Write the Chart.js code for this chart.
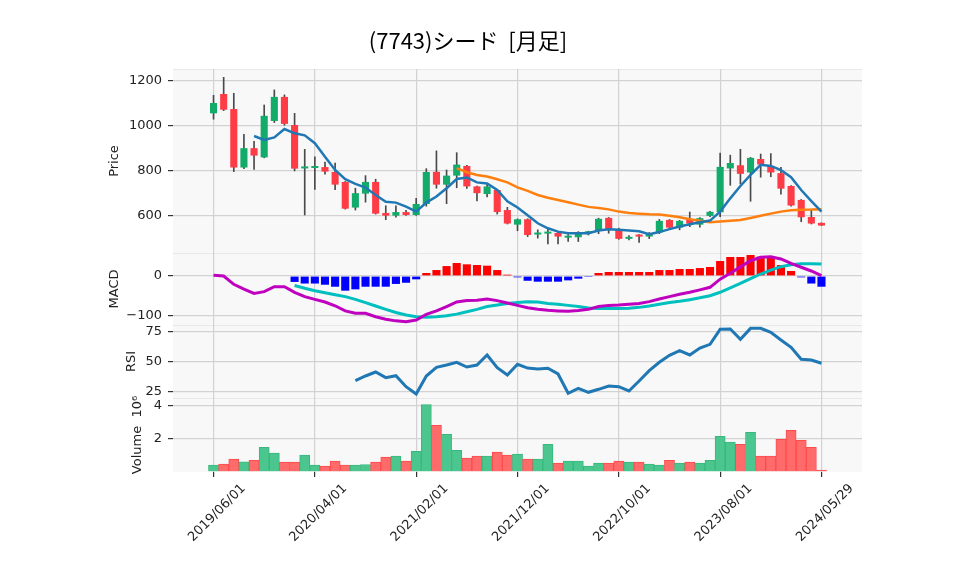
<!DOCTYPE html>
<html>
<head>
<meta charset="utf-8">
<script src="https://cdn.jsdelivr.net/npm/chart.js@4.4.1/dist/chart.umd.min.js"></script>
<style>
    html, body { margin: 0; padding: 0; background: #fff; }
    canvas { display: block; }
</style>
</head>
<body>
<canvas id="chart" width="958" height="575"></canvas>
<script>
// monthly candles, index 0 = 2019/06 ... 60 = 2024/05
const tickPositions = [0, 10, 20, 30, 40, 50, 60];
const tickLabels = ["2019/06/01", "2020/04/01", "2021/02/01", "2021/12/01", "2022/10/01", "2023/08/01", "2024/05/29"];

const opens = [1053, 1139, 1072, 812, 898, 857, 1019, 1126, 1001, 808, 810, 814, 792, 748, 634, 696, 748, 610, 598, 614,
    601, 650, 793, 736, 776, 819, 728, 694, 712, 623, 558, 582, 514, 518, 521, 500, 502, 520, 532, 588,
    535, 495, 512, 505, 524, 579, 545, 582, 558, 597, 613, 808, 822, 790, 850, 819, 787, 730, 668, 592, 566];
const highs = [1133, 1213, 1142, 960, 929, 1090, 1157, 1135, 1053, 893, 860, 836, 832, 750, 720, 776, 760, 642, 642, 622,
    675, 807, 886, 801, 878, 822, 730, 739, 715, 635, 584, 584, 535, 538, 524, 514, 527, 529, 587, 590,
    542, 509, 514, 523, 581, 581, 577, 614, 590, 617, 876, 867, 893, 857, 872, 874, 813, 732, 670, 622, 566];
const lows = [1027, 1065, 794, 807, 804, 855, 1012, 1000, 797, 601, 715, 783, 713, 627, 623, 658, 605, 580, 591, 599,
    599, 640, 720, 651, 722, 719, 664, 681, 605, 561, 531, 505, 498, 472, 472, 483, 483, 512, 518, 520,
    493, 490, 479, 496, 518, 538, 535, 549, 547, 594, 593, 733, 739, 662, 769, 771, 693, 640, 571, 561, 554];
const closes = [1099, 1069, 812, 898, 865, 1042, 1126, 1006, 807, 816, 816, 794, 736, 629, 698, 748, 607, 598, 614, 601,
    650, 792, 736, 776, 825, 728, 698, 728, 614, 563, 582, 512, 523, 527, 505, 509, 517, 527, 584, 539,
    495, 503, 505, 517, 575, 545, 575, 563, 587, 615, 815, 832, 784, 855, 825, 790, 718, 643, 591, 563, 554];

const ma5 = [null, null, null, null, 952, 935, 946, 983, 964, 955, 920, 860, 801, 760, 739, 723, 690, 660, 656, 638,
    616, 656, 683, 720, 761, 768, 746, 741, 712, 662, 634, 600, 564, 542, 527, 520, 520, 520, 532, 538,
    535, 532, 529, 516, 525, 538, 550, 560, 569, 576, 616, 675, 730, 779, 824, 819, 801, 769, 712, 663, 616];
const ma25 = [null, null, null, null, null, null, null, null, null, null, null, null, null, null, null, null, null, null, null, null,
    null, null, null, null, 809, 791, 779, 772, 760, 746, 724, 708, 690, 678, 668, 658, 647, 637, 632, 626,
    616, 610, 607, 604, 603, 598, 591, 582, 575, 569, 572, 575, 579, 588, 598, 607, 616, 622, 624, 625, 627];

const macd = [1.7, 0, -21, -33, -44, -39.5, -27, -27, -41, -52, -59, -65.5, -75, -88, -94, -94, -102.5, -109, -113, -115,
    -111, -96.6, -88, -77, -65.5, -62, -61, -58, -62, -68, -74, -80, -84, -86.5, -88, -89, -87, -84, -77, -74,
    -73, -71, -69, -64.6, -58, -52, -46, -41, -35, -28.5, -8, 7, 23, 38.5, 47, 48.6, 43, 32, 22, 12.6, 1];
const signal = [null, null, null, null, null, null, null, null, -24, -31, -37, -42, -47, -52, -59, -67, -75.6, -84, -92, -98,
    -102.5, -104, -102.5, -100, -96, -90, -84, -77, -73, -69, -66.5, -65, -65.5, -69, -71, -74, -77, -80.6, -82, -82,
    -82, -81, -79, -75.6, -71, -67, -63.7, -59.6, -55, -49.6, -41, -30, -18.5, -6.7, 5, 15, 23.5, 28.5, 31, 31, 30];
const hist = [null, null, null, null, null, null, null, null, -15, -19, -19, -22, -27, -37, -33.6, -27, -27, -27, -20, -17,
    -8.4, 7.6, 15, 25, 32.7, 29.4, 27.7, 26, 15, 3.4, -3.4, -12, -14.3, -14.3, -14.3, -11, -6.7, -2.5, 7.6, 10,
    10, 10, 10, 10, 15, 15, 17.6, 17.6, 20, 22.7, 37.8, 47.9, 47.9, 52.9, 48.6, 45.3, 27.7, 12.6, -3.4, -19, -27];

const rsi = [null, null, null, null, null, null, null, null, null, null, null, null, null, null, 34.2, 38.1, 41.4, 36.7, 38.3, 29.2,
    23.1, 38.1, 45.3, 47.2, 49.5, 45.6, 47.2, 55.6, 45, 38.9, 47.9, 44.7, 43.9, 44.5, 39.8, 23.7, 27.8, 24.5, 27, 29.75,
    29.2, 25.6, 33.9, 42.5, 49.5, 55.3, 59.2, 55.6, 61.4, 64.5, 77, 77.25, 68.7, 77.8, 77.8, 74.5, 68.1, 62, 52, 51.4, 48.7];

// volume in millions of shares
const volume = [0.38, 0.44, 0.75, 0.58, 0.68, 1.47, 1.11, 0.56, 0.56, 0.99, 0.38, 0.32, 0.62, 0.38, 0.38, 0.42, 0.56, 0.87, 0.93, 0.62,
    1.23, 4.08, 2.81, 2.26, 1.29, 0.81, 0.93, 0.93, 1.17, 0.99, 1.05, 0.75, 0.75, 1.65, 0.5, 0.62, 0.62, 0.32, 0.5, 0.5,
    0.62, 0.56, 0.56, 0.44, 0.38, 0.68, 0.5, 0.56, 0.5, 0.68, 2.14, 1.78, 1.65, 2.38, 0.93, 0.93, 1.96, 2.5, 1.9, 1.47, 0.07];

const priceTicks = [600, 800, 1000, 1200];
const macdTicks = [-100, 0];
const rsiTicks = [25, 50, 75];
const volumeTicks = [2, 4];

const tickFont = { family: "'DejaVu Sans', sans-serif", size: 13 };
const textColor = "#222";
const gridColor = "#d2d2d2";

function points(arr) {
    return arr.map((v, i) => ({ x: i, y: v }));
}

const isUp = closes.map((c, i) => c >= opens[i]);
const bodyColors = isUp.map(u => u ? "#12ab69" : "#ff3b46");
const volColors = isUp.map(u => u ? "#4bc68e" : "#ff6b6b");
const volEdges = isUp.map(u => u ? "#38b87d" : "#ff4b4b");
const histColors = hist.map(v => v >= 0 ? "#ff0000" : "#0000ff");

function yAxis(stackWeight, min, max, tickValues, title, titlePad, fmt) {
    return {
        type: "linear",
        position: "left",
        stack: "panels",
        stackWeight: stackWeight,
        min: min,
        max: max,
        afterBuildTicks: s => { s.ticks = tickValues.map(v => ({ value: v })); },
        afterFit: s => { s.width = 99; },
        ticks: {
            font: tickFont,
            color: textColor,
            padding: 6,
            callback: fmt || (v => String(v))
        },
        grid: { color: gridColor, lineWidth: 1.2, tickColor: "#333", tickLength: 5 },
        border: { display: false },
        title: {
            display: true,
            text: title,
            font: tickFont,
            color: textColor,
            padding: { top: titlePad, bottom: 0 }
        }
    };
}

const panelBackground = {
    id: "panelBackground",
    beforeDraw(chart) {
        const { ctx, chartArea } = chart;
        ctx.save();
        ["yPrice", "yMacd", "yRsi", "yVol"].forEach(id => {
            const s = chart.scales[id];
            ctx.fillStyle = "#f8f8f8";
            ctx.fillRect(chartArea.left, s.top, chartArea.right - chartArea.left, s.bottom - s.top);
            ctx.strokeStyle = "#e8e8e8";
            ctx.lineWidth = 1;
            ctx.beginPath();
            ctx.moveTo(chartArea.left, s.top + 0.5);
            ctx.lineTo(chartArea.right, s.top + 0.5);
            ctx.stroke();
        });
        ctx.restore();
    }
};

new Chart(document.getElementById("chart"), {
    type: "bar",
    data: {
        datasets: [
            { type: "line", label: "MA5", data: points(ma5), yAxisID: "yPrice", borderColor: "#1f77b4", borderWidth: 2.5, pointRadius: 0, tension: 0, order: 0 },
            { type: "line", label: "MA25", data: points(ma25), yAxisID: "yPrice", borderColor: "#ff7f0e", borderWidth: 2.5, pointRadius: 0, tension: 0, order: 0 },
            { label: "body", data: opens.map((o, i) => ({ x: i, y: [o, closes[i]] })), yAxisID: "yPrice",
              backgroundColor: bodyColors, barPercentage: 0.7, categoryPercentage: 1, grouped: false, minBarLength: 2, order: 1 },
            { label: "wick", data: lows.map((l, i) => ({ x: i, y: [l, highs[i]] })), yAxisID: "yPrice",
              backgroundColor: "#4a4a4a", barThickness: 1, grouped: false, order: 2 },

            { type: "line", label: "MACD", data: points(macd), yAxisID: "yMacd", borderColor: "#bf00bf", borderWidth: 3, pointRadius: 0, tension: 0, order: 0 },
            { type: "line", label: "Signal", data: points(signal), yAxisID: "yMacd", borderColor: "#00bfbf", borderWidth: 3, pointRadius: 0, tension: 0, order: 0 },
            { label: "Hist", data: points(hist), yAxisID: "yMacd", backgroundColor: histColors,
              barPercentage: 0.8, categoryPercentage: 1, grouped: false, order: 1 },

            { type: "line", label: "RSI", data: points(rsi), yAxisID: "yRsi", borderColor: "#1f77b4", borderWidth: 3, pointRadius: 0, tension: 0, order: 0 },

            { label: "Volume", data: points(volume), yAxisID: "yVol", backgroundColor: volColors, borderColor: volEdges,
              borderWidth: 1, barPercentage: 1, categoryPercentage: 1, grouped: false, order: 1 }
        ]
    },
    options: {
        responsive: false,
        animation: false,
        events: [],
        devicePixelRatio: 1,
        layout: { padding: { left: 74, right: 96, top: 0, bottom: 0 } },
        plugins: {
            legend: { display: false },
            tooltip: { enabled: false },
            title: {
                display: true,
                text: "(7743)シード  [月足]",
                font: { family: "'Noto Sans CJK JP', sans-serif", size: 22, weight: "normal" },
                color: "#000",
                padding: { top: 27, bottom: 15.6 }
            }
        },
        scales: {
            x: {
                type: "linear",
                min: -4,
                max: 64,
                offset: false,
                afterBuildTicks: s => { s.ticks = tickPositions.map(v => ({ value: v })); },
                afterFit: s => { s.height = 103; },
                ticks: {
                    autoSkip: false,
                    minRotation: 45,
                    maxRotation: 45,
                    labelOffset: 30,
                    padding: 4,
                    font: tickFont,
                    color: textColor,
                    callback: v => tickLabels[tickPositions.indexOf(v)]
                },
                grid: { offset: false, color: gridColor, lineWidth: 1.2, tickColor: "#333", tickLength: 5 },
                border: { display: false }
            },
            yVol: yAxis(74, -0.04, 4.48, volumeTicks, "Volume  10\u2076", 56),
            yRsi: yAxis(73, 19.75, 80.6, rsiTicks, "RSI", 50),
            yMacd: yAxis(72, -123.4, 57.9, macdTicks, "MACD", 33.2, v => v < 0 ? "\u2212" + Math.abs(v) : String(v)),
            yPrice: yAxis(184, 432, 1250, priceTicks, "Price", 33.2)
        }
    },
    plugins: [panelBackground]
});
</script>
</body>
</html>
